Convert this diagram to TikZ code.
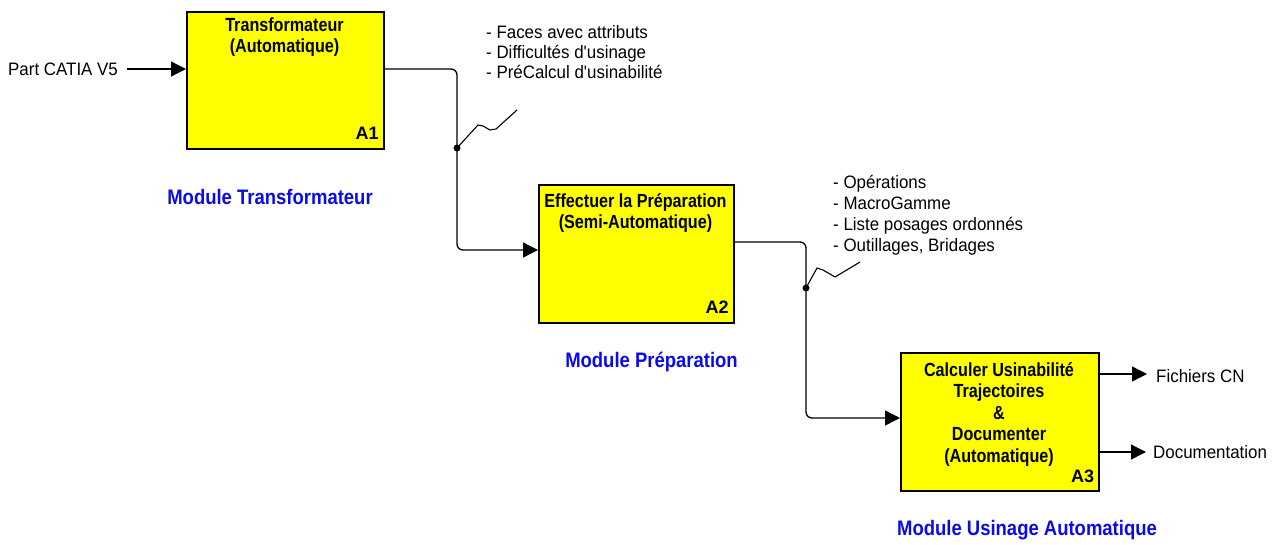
\documentclass[tikz,border=0pt]{standalone}
\usepackage{fontspec}
\setmainfont{Liberation Sans}
\newfontfamily\narrowreg{Liberation Sans}[FakeStretch=0.94]
\newfontfamily\narrowbold{Liberation Sans Bold}[FakeStretch=0.85]
\newfontfamily\modfont{Liberation Sans Bold}[FakeStretch=0.88]
\usetikzlibrary{arrows.meta,calc}
\definecolor{boxyellow}{RGB}{255,255,0}
\definecolor{modblue}{RGB}{10,10,235}
\begin{document}
\begin{tikzpicture}[x=1pt,y=-1pt,
  fbox/.style={draw=black,line width=1.8pt,fill=boxyellow,anchor=north west,inner sep=0pt},
  btitle/.style={align=center,inner sep=0pt,anchor=north,font=\fontsize{19}{21}\narrowbold},
  alabel/.style={inner sep=0pt,anchor=base east,font=\fontsize{18}{20}\bfseries},
  modlabel/.style={inner sep=0pt,anchor=base,text=modblue,font=\fontsize{21}{22}\modfont},
  plain/.style={inner sep=0pt,font=\fontsize{18}{20}\narrowreg},
  listtxt/.style={inner sep=0pt,anchor=north west,align=left},
  conn/.style={line width=1.3pt,rounded corners=6pt},
  arr/.style={conn,-{Triangle[length=15pt,width=15pt]}},
  jdot/.style={circle,fill=black,inner sep=0pt,minimum size=7pt},
  zz/.style={line width=1.1pt}
]
\useasboundingbox (0,0) rectangle (1284,544);

% boxes
\node[fbox,minimum width=197pt,minimum height=137pt] (A1) at (186,11) {};
\node[fbox,minimum width=195pt,minimum height=138pt] (A2) at (538,184) {};
\node[fbox,minimum width=198pt,minimum height=138pt,line width=2.4pt] (A3) at (900,352) {};

% titles
\node[btitle] (t1) at (284.5,18) {Transformateur\\(Automatique)};
\node[btitle] (t2) at (635.5,193) {Effectuer la Préparation\\(Semi-Automatique)};
\node[btitle,font=\fontsize{19}{21.5}\narrowbold] (t3) at (999,362) {Calculer Usinabilité\\Trajectoires\\\&\\Documenter\\(Automatique)};

% A labels
\node[alabel] (l1) at ($(A1.south east)+(-6,-10)$) {A1};
\node[alabel] (l2) at ($(A2.south east)+(-6,-10)$) {A2};
\node[alabel] (l3) at ($(A3.south east)+(-6,-10)$) {A3};

% module labels
\node[modlabel] (m1) at (270,204) {Module Transformateur};
\node[modlabel] (m2) at (651.5,367) {Module Préparation};
\node[modlabel] (m3) at (1027,535) {Module Usinage Automatique};

% input
\node[plain,anchor=base west] (pin) at (8,75) {Part CATIA V5};
\coordinate (inp) at (127,69);
\draw[arr] (inp) -- (A1.west |- inp);

% A1 -> A2
\draw[arr] (A1.east |- 0,69) -- (457,69) -- (457,250) -- (A2.west |- 0,250);
\node[jdot] (j1) at (457,148) {};
\coordinate (z1) at (517,110);
\draw[zz] (j1.center) -- (478,125) -- (483,126) -- (490,130) -- (496,129) -- (z1);
\node[plain,listtxt] (list1) at (486,25) {- Faces avec attributs\\- Difficultés d'usinage\\- PréCalcul d'usinabilité};

% A2 -> A3
\draw[arr] (A2.east |- 0,242) -- (806,242) -- (806,418) -- (A3.west |- 0,418);
\node[jdot] (j2) at (806,288) {};
\coordinate (z2) at (860,262);
\draw[zz] (j2.center) -- (817,268) -- (823,270) -- (835,277) -- (z2);
\node[plain,listtxt,font=\fontsize{18}{21}\narrowreg] (list2) at (833,175) {- Opérations\\- MacroGamme\\- Liste posages ordonnés\\- Outillages, Bridages};

% outputs
\coordinate (o1) at (1147,374);
\coordinate (o2) at (1146,452);
\draw[arr] (A3.east |- o1) -- (o1);
\draw[arr] (A3.east |- o2) -- (o2);
\node[plain,anchor=base west] (f1) at (1156,382) {Fichiers CN};
\node[plain,anchor=base west] (f2) at (1153,458) {Documentation};
\end{tikzpicture}
\end{document}
